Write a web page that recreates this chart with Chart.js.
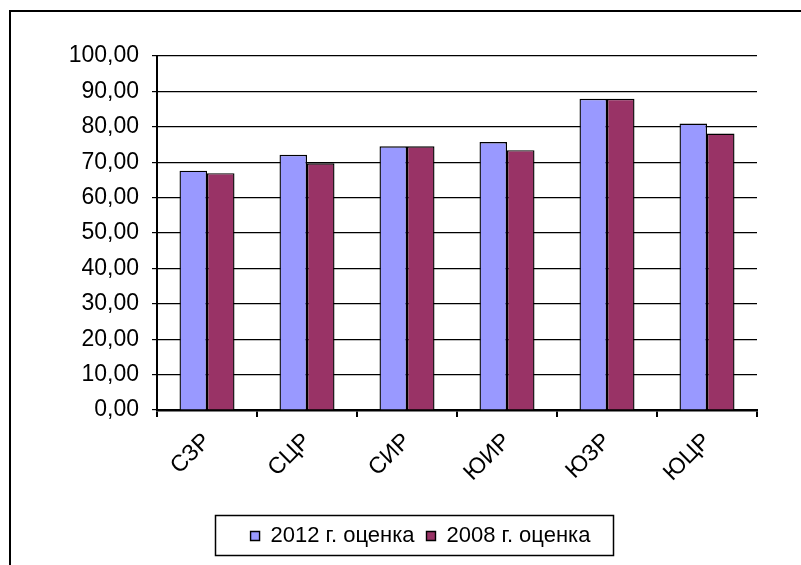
<!DOCTYPE html>
<html>
<head>
<meta charset="utf-8">
<script src="https://cdn.jsdelivr.net/npm/chart.js@4"></script>
<style>
  html, body { margin: 0; padding: 0; background: #fff; }
  #wrap { width: 801px; height: 565px; }
</style>
</head>
<body>
<div id="wrap"><canvas id="myChart" width="801" height="565"></canvas></div>
<script>
// regions
let regions = ['СЗР', 'СЦР', 'СИР', 'ЮИР', 'ЮЗР', 'ЮЦР'];
// estimates
let est2012 = [67.6, 72.1, 74.5, 75.7, 87.9, 80.9];
let est2008 = [66.9, 69.7, 74.5, 73.4, 87.9, 78.1];
let seriesNames = ['2012 г. оценка', '2008 г. оценка'];

// white background + outer frame (only top/left edges fit in the window)
let framePlugin = {
  id: 'frame',
  beforeDraw(chart) {
    let c = chart.ctx;
    c.save();
    c.fillStyle = '#fff';
    c.fillRect(0, 0, chart.width, chart.height);
    c.strokeStyle = '#000';
    c.lineWidth = 2;
    c.beginPath();
    c.moveTo(10, chart.height + 5);
    c.lineTo(10, 11);
    c.lineTo(chart.width + 5, 11);
    c.stroke();
    c.restore();
  }
};

// legend sits a bit to the right of the canvas centre
let legendShift = {
  id: 'legendShift',
  afterLayout(chart) {
    chart.legend.left += 12;
    chart.legend.right += 12;
  }
};

// box around the legend
let legendBox = {
  id: 'legendBox',
  afterDraw(chart) {
    let hb = chart.legend.legendHitBoxes;
    if (!hb || !hb.length) return;
    let l = Math.min(...hb.map(h => h.left));
    let r = Math.max(...hb.map(h => h.left + h.width));
    let t = Math.min(...hb.map(h => h.top));
    let b = Math.max(...hb.map(h => h.top + h.height));
    let cy = (t + b) / 2;
    let c = chart.ctx;
    c.save();
    c.strokeStyle = '#000';
    c.lineWidth = 1.5;
    c.strokeRect(Math.round(l - 36) + 0.5, Math.round(cy - 21) + 0.5, Math.round(r - l + 58), 40);
    c.restore();
  }
};

let font = { family: 'Liberation Sans, Arial, sans-serif', size: 23 };

let ctx = document.getElementById('myChart').getContext('2d');
let myChart = new Chart(ctx, {
  type: 'bar',
  data: {
    labels: regions,
    datasets: [{
      label: seriesNames[0],
      data: est2012,
      backgroundColor: '#9999FF',
      borderColor: '#000',
      borderWidth: 1.4
    }, {
      label: seriesNames[1],
      data: est2008,
      backgroundColor: '#993366',
      borderColor: '#000',
      borderWidth: 1.4
    }]
  },
  plugins: [framePlugin, legendShift, legendBox],
  options: {
    responsive: false,
    animation: false,
    categoryPercentage: 0.55,
    barPercentage: 1,
    layout: { padding: { left: 60, right: 44, top: 56, bottom: 8 } },
    plugins: {
      tooltip: { enabled: false },
      legend: {
        position: 'bottom',
        labels: {
          color: '#000',
          font: { family: 'Liberation Sans, Arial, sans-serif', size: 22 },
          boxWidth: 9,
          boxHeight: 9,
          padding: 12,
          useBorderRadius: false
        }
      }
    },
    scales: {
      y: {
        min: 0,
        max: 100,
        afterFit(scale) { scale.width = 97; },
        ticks: {
          stepSize: 10,
          color: '#000',
          font: font,
          padding: 13,
          callback: v => v.toFixed(2).replace('.', ',')
        },
        grid: { color: '#000', lineWidth: 1.2, tickLength: 5, tickColor: '#000' },
        border: { color: '#000', width: 2 }
      },
      x: {
        afterFit(scale) { scale.height = 103; },
        ticks: {
          color: '#000',
          font: font,
          minRotation: 45,
          maxRotation: 45,
          padding: 11
        },
        grid: { drawOnChartArea: false, offset: true, tickLength: 7, color: '#000', lineWidth: 2 },
        border: { color: '#000', width: 2.5 }
      }
    }
  }
});
</script>
</body>
</html>
